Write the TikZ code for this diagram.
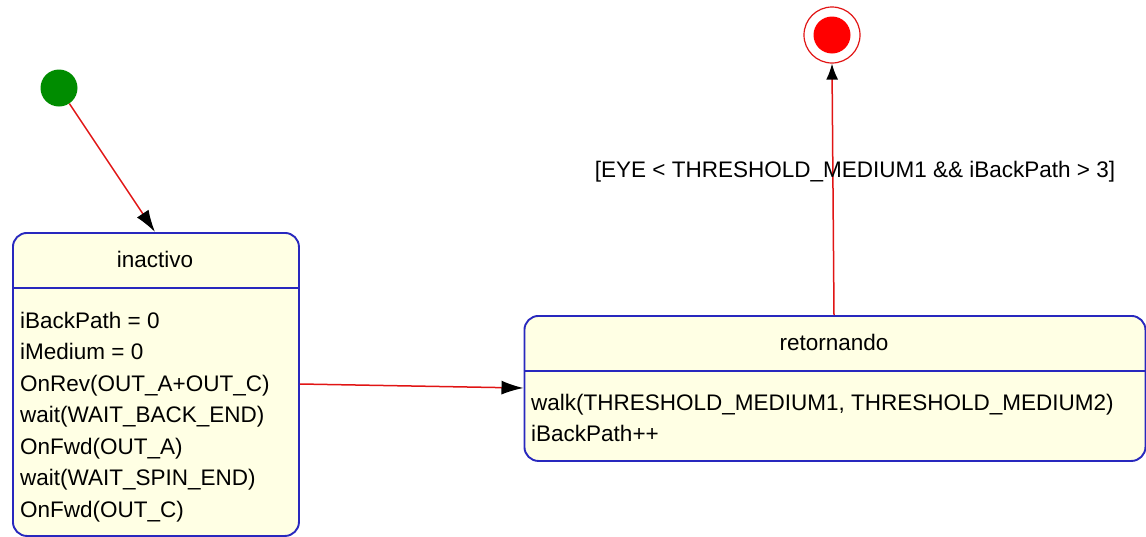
\documentclass[tikz,border=0pt]{standalone}
\usepackage{fontspec}
\setmainfont{Liberation Sans}
\usetikzlibrary{arrows.meta}
\definecolor{stateFill}{RGB}{255,255,228}
\definecolor{stateLine}{RGB}{40,40,190}
\definecolor{flowRed}{RGB}{225,20,20}
\definecolor{startGreen}{RGB}{0,140,0}
\tikzset{
  statebox/.style={draw=stateLine, line width=1.9pt, fill=stateFill,
    rounded corners=14pt, inner sep=0pt, anchor=north west},
  divider/.style={draw=stateLine, line width=1.9pt},
  txt/.style={anchor=base west, inner sep=0pt, font=\fontsize{22.5}{27}\selectfont},
  ttl/.style={anchor=base, inner sep=0pt, font=\fontsize{22.5}{27}\selectfont},
  flow/.style={draw=flowRed, line width=1.5pt,
    -{Latex[length=22pt,width=14pt,fill=black,color=black]}},
  startdot/.style={circle, fill=startGreen, minimum size=37pt, inner sep=0pt},
  endring/.style={circle, draw=flowRed, line width=1.2pt, minimum size=56pt, inner sep=0pt},
  enddot/.style={circle, fill=red, minimum size=37pt, inner sep=0pt},
}
\begin{document}
\begin{tikzpicture}[x=1pt, y=-1pt]
\useasboundingbox (0,0) rectangle (1146,536);

% initial and final pseudo-states
\node[startdot] (start) at (59,88) {};
\node[endring] (final) at (832,35) {};
\node[enddot] (finaldot) at (832,35) {};

% state: inactivo
\node[statebox, minimum width=286pt, minimum height=303pt] (inact) at (12,232) {};
\draw[divider] (inact.west |- 0,288) -- (inact.east |- 0,288);
\node[ttl] (inactT) at (155,267) {inactivo};
\node[txt] (i1) at (20,328) {iBackPath = 0};
\node[txt] (i2) at (20,359.5) {iMedium = 0};
\node[txt] (i3) at (20,391) {OnRev(OUT\_A+OUT\_C)};
\node[txt] (i4) at (20,422.5) {wait(WAIT\_BACK\_END)};
\node[txt] (i5) at (20,454) {OnFwd(OUT\_A)};
\node[txt] (i6) at (20,485.5) {wait(WAIT\_SPIN\_END)};
\node[txt] (i7) at (20,517) {OnFwd(OUT\_C)};

% state: retornando
\node[statebox, minimum width=621pt, minimum height=145pt] (ret) at (523.5,315) {};
\draw[divider] (ret.west |- 0,371) -- (ret.east |- 0,371);
\node[ttl] (retT) at (834,350) {retornando};
\node[txt] (r1) at (531,410) {walk(THRESHOLD\_MEDIUM1, THRESHOLD\_MEDIUM2)};
\node[txt] (r2) at (531,441.5) {iBackPath++};

% transitions
\draw[flow] (start) -- (inact.north -| 155,0);
\draw[flow] (inact.east |- 0,384) -- (ret.west |- 0,388);
\draw[flow, -{Latex[length=16pt,width=12pt,fill=black,color=black]}]
  (ret.north -| 834,0) -- (final.south);
\node[ttl] (guard) at (855,177) {[EYE < THRESHOLD\_MEDIUM1 \&\& iBackPath > 3]};
\end{tikzpicture}
\end{document}
